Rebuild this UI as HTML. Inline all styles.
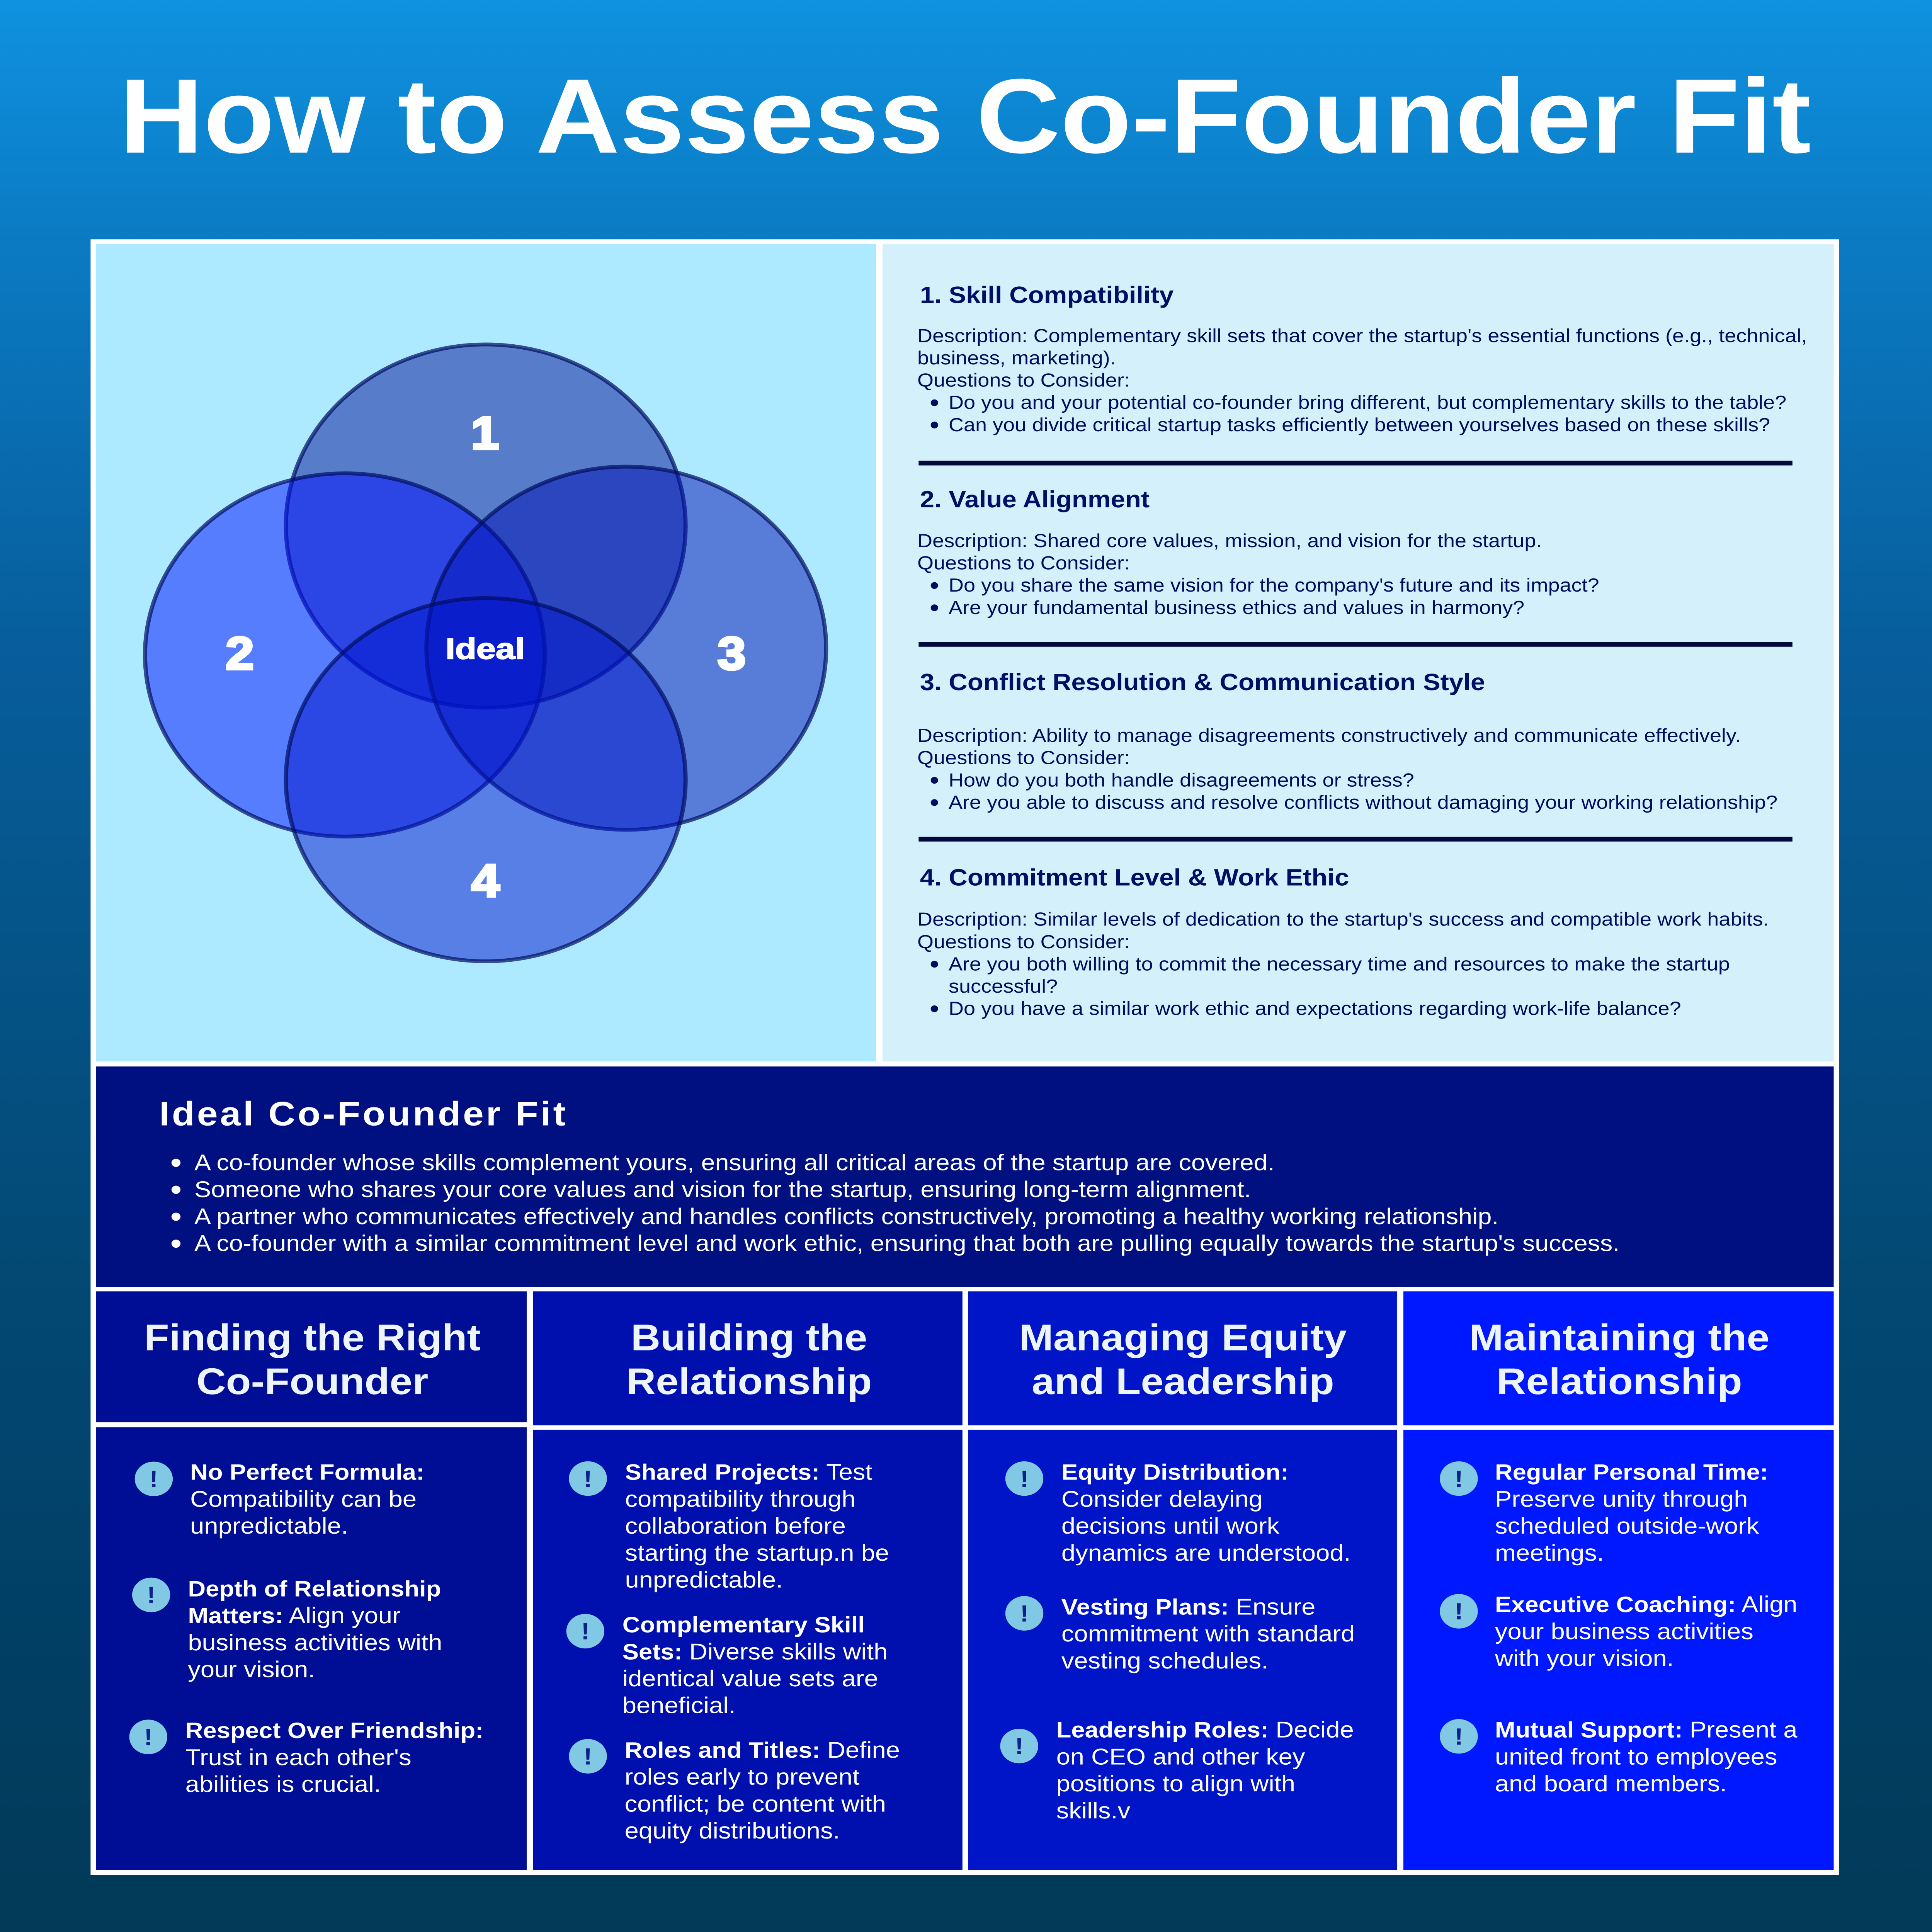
<!DOCTYPE html>
<html><head><meta charset="utf-8"><title>How to Assess Co-Founder Fit</title>
<style>
html,body{margin:0;padding:0;background:#023a58;width:100%;height:100%;overflow:hidden}
svg{display:block;position:absolute;left:0;top:0;width:100vw;height:100vh}
text{font-family:"Liberation Sans",Arial,Helvetica,sans-serif;text-rendering:geometricPrecision}
.h{font-size:80.5px;font-weight:700;fill:#000f66}
.d{font-size:64.8px;fill:#000c5e}
.l{font-size:77.5px;fill:#fff}
.i{font-size:78px;fill:#fff}
.b{font-weight:700;font-size:76px}
.ch{font-size:127px;font-weight:700;fill:#edf5fb;text-anchor:middle}
.v{font-size:158px;font-weight:700;fill:#fff;stroke:#fff;stroke-width:8px;text-anchor:middle}
.x{font-size:80px;font-weight:700;fill:#0d2288;text-anchor:middle}
</style></head><body>
<svg xmlns="http://www.w3.org/2000/svg" viewBox="0 0 5994 6596" preserveAspectRatio="none">
<defs>
<linearGradient id="bg" x1="0" y1="0" x2="0" y2="1">
<stop offset="0" stop-color="#0f92e0"/><stop offset=".12" stop-color="#0b7bc4"/><stop offset=".33" stop-color="#075e9c"/><stop offset=".64" stop-color="#034a76"/><stop offset=".85" stop-color="#013f64"/><stop offset="1" stop-color="#023a58"/>
</linearGradient>
</defs>
<rect width="5994" height="6596" fill="url(#bg)"/>
<text x="370" y="521" font-size="361.5" font-weight="700" fill="#fff">How to Assess Co-Founder Fit</text>

<rect x="281" y="817" width="5425" height="5584" fill="#fff"/>
<rect x="298" y="833" width="2420" height="2791" fill="#aeeaff"/>
<rect x="2738" y="833" width="2951" height="2791" fill="#d3f0fb"/>
<rect x="298" y="3641" width="5391" height="752" fill="#001080"/>
<rect x="298" y="4409" width="1336" height="447" fill="#000e96"/>
<rect x="298" y="4873" width="1336" height="1511" fill="#000e96"/>
<rect x="1654" y="4409" width="1332" height="457" fill="#0010ae"/>
<rect x="1654" y="4881" width="1332" height="1503" fill="#0010ae"/>
<rect x="3003" y="4409" width="1331" height="457" fill="#0014c8"/>
<rect x="3003" y="4881" width="1331" height="1503" fill="#0014c8"/>
<rect x="4354" y="4409" width="1335" height="457" fill="#0018ff"/>
<rect x="4354" y="4881" width="1335" height="1503" fill="#0018ff"/>

<!-- Venn -->
<g stroke="rgb(0,13,95)" stroke-opacity=".7" stroke-width="13" fill-opacity=".5">
<circle cx="1507" cy="1796" r="620" fill="#001096"/>
<circle cx="1070" cy="2236" r="620" fill="#0010ff"/>
<circle cx="1943" cy="2213" r="620" fill="#0010b1"/>
<circle cx="1507" cy="2662" r="620" fill="#0014cb"/>
</g>
<text class="v" x="1505" y="1533">1</text>
<text class="v" x="744" y="2285">2</text>
<text class="v" x="2270" y="2285">3</text>
<text class="v" x="1506" y="3061">4</text>
<text x="1382" y="2249" font-size="100" font-weight="700" fill="#fff" stroke="#fff" stroke-width="3" textLength="246" lengthAdjust="spacingAndGlyphs">Ideal</text>

<!-- Right panel -->
<text class="h" x="2854" y="1034">1. Skill Compatibility</text>
<text class="d" x="2846" y="1168">Description: Complementary skill sets that cover the startup's essential functions (e.g., technical,</text>
<text class="d" x="2846" y="1244">business, marketing).</text>
<text class="d" x="2846" y="1320">Questions to Consider:</text>
<circle cx="2899" cy="1375" r="11.5" fill="#000c5e"/>
<text class="d" x="2943" y="1396">Do you and your potential co-founder bring different, but complementary skills to the table?</text>
<circle cx="2899" cy="1451" r="11.5" fill="#000c5e"/>
<text class="d" x="2943" y="1472">Can you divide critical startup tasks efficiently between yourselves based on these skills?</text>
<rect x="2850" y="1573" width="2711" height="16" fill="#00083c"/>

<text class="h" x="2854" y="1732">2. Value Alignment</text>
<text class="d" x="2846" y="1868">Description: Shared core values, mission, and vision for the startup.</text>
<text class="d" x="2846" y="1944">Questions to Consider:</text>
<circle cx="2899" cy="1999" r="11.5" fill="#000c5e"/>
<text class="d" x="2943" y="2020">Do you share the same vision for the company's future and its impact?</text>
<circle cx="2899" cy="2075" r="11.5" fill="#000c5e"/>
<text class="d" x="2943" y="2096">Are your fundamental business ethics and values in harmony?</text>
<rect x="2850" y="2192" width="2711" height="16" fill="#00083c"/>

<text class="h" x="2854" y="2356">3. Conflict Resolution &amp; Communication Style</text>
<text class="d" x="2846" y="2533">Description: Ability to manage disagreements constructively and communicate effectively.</text>
<text class="d" x="2846" y="2609">Questions to Consider:</text>
<circle cx="2899" cy="2664" r="11.5" fill="#000c5e"/>
<text class="d" x="2943" y="2685">How do you both handle disagreements or stress?</text>
<circle cx="2899" cy="2740" r="11.5" fill="#000c5e"/>
<text class="d" x="2943" y="2761">Are you able to discuss and resolve conflicts without damaging your working relationship?</text>
<rect x="2850" y="2857" width="2711" height="16" fill="#00083c"/>

<text class="h" x="2854" y="3023">4. Commitment Level &amp; Work Ethic</text>
<text class="d" x="2846" y="3160">Description: Similar levels of dedication to the startup's success and compatible work habits.</text>
<text class="d" x="2846" y="3237">Questions to Consider:</text>
<circle cx="2899" cy="3292" r="11.5" fill="#000c5e"/>
<text class="d" x="2943" y="3313">Are you both willing to commit the necessary time and resources to make the startup</text>
<text class="d" x="2943" y="3389">successful?</text>
<circle cx="2899" cy="3444" r="11.5" fill="#000c5e"/>
<text class="d" x="2943" y="3465">Do you have a similar work ethic and expectations regarding work-life balance?</text>

<!-- Ideal panel -->
<text x="494" y="3842" font-size="116" font-weight="700" fill="#fff" letter-spacing="7">Ideal Co-Founder Fit</text>
<circle cx="546" cy="3970" r="14" fill="#fff"/>
<text class="l" x="603" y="3995">A co-founder whose skills complement yours, ensuring all critical areas of the startup are covered.</text>
<circle cx="546" cy="4062" r="14" fill="#fff"/>
<text class="l" x="603" y="4087">Someone who shares your core values and vision for the startup, ensuring long-term alignment.</text>
<circle cx="546" cy="4154" r="14" fill="#fff"/>
<text class="l" x="603" y="4179">A partner who communicates effectively and handles conflicts constructively, promoting a healthy working relationship.</text>
<circle cx="546" cy="4246" r="14" fill="#fff"/>
<text class="l" x="603" y="4271">A co-founder with a similar commitment level and work ethic, ensuring that both are pulling equally towards the startup's success.</text>

<!-- Column heads -->
<text class="ch" x="969" y="4610">Finding the Right</text>
<text class="ch" x="969" y="4760">Co-Founder</text>
<text class="ch" x="2324" y="4610">Building the</text>
<text class="ch" x="2324" y="4760">Relationship</text>
<text class="ch" x="3670" y="4610">Managing Equity</text>
<text class="ch" x="3670" y="4760">and Leadership</text>
<text class="ch" x="5024" y="4610">Maintaining the</text>
<text class="ch" x="5024" y="4760">Relationship</text>

<!-- Icons -->
<g fill="#80c8e4">
<circle cx="477" cy="5049" r="59"/><circle cx="469" cy="5445" r="59"/><circle cx="460" cy="5930" r="59"/>
<circle cx="1824" cy="5048" r="59"/><circle cx="1816" cy="5569" r="59"/><circle cx="1824" cy="5996" r="59"/>
<circle cx="3178" cy="5048" r="59"/><circle cx="3178" cy="5508" r="59"/><circle cx="3162" cy="5961" r="59"/>
<circle cx="4526" cy="5048" r="59"/><circle cx="4526" cy="5501" r="59"/><circle cx="4526" cy="5928" r="59"/>
</g>
<text class="x" x="477" y="5077">!</text><text class="x" x="469" y="5473">!</text><text class="x" x="460" y="5958">!</text>
<text class="x" x="1824" y="5076">!</text><text class="x" x="1816" y="5597">!</text><text class="x" x="1824" y="6024">!</text>
<text class="x" x="3178" y="5076">!</text><text class="x" x="3178" y="5536">!</text><text class="x" x="3162" y="5989">!</text>
<text class="x" x="4526" y="5076">!</text><text class="x" x="4526" y="5529">!</text><text class="x" x="4526" y="5956">!</text>

<!-- Col 1 -->
<text class="i b" x="590" y="5052">No Perfect Formula:</text>
<text class="i" x="590" y="5144">Compatibility can be</text>
<text class="i" x="590" y="5236">unpredictable.</text>
<text class="i b" x="583" y="5450">Depth of Relationship</text>
<text class="i" x="583" y="5542"><tspan class="b">Matters:</tspan> Align your</text>
<text class="i" x="583" y="5634">business activities with</text>
<text class="i" x="583" y="5726">your vision.</text>
<text class="i b" x="575" y="5934">Respect Over Friendship:</text>
<text class="i" x="575" y="6026">Trust in each other's</text>
<text class="i" x="575" y="6118">abilities is crucial.</text>

<!-- Col 2 -->
<text class="i" x="1939" y="5052"><tspan class="b">Shared Projects:</tspan> Test</text>
<text class="i" x="1939" y="5144">compatibility through</text>
<text class="i" x="1939" y="5236">collaboration before</text>
<text class="i" x="1939" y="5328">starting the startup.n be</text>
<text class="i" x="1939" y="5420">unpredictable.</text>
<text class="i b" x="1931" y="5573">Complementary Skill</text>
<text class="i" x="1931" y="5665"><tspan class="b">Sets:</tspan> Diverse skills with</text>
<text class="i" x="1931" y="5757">identical value sets are</text>
<text class="i" x="1931" y="5849">beneficial.</text>
<text class="i" x="1938" y="6001"><tspan class="b">Roles and Titles:</tspan> Define</text>
<text class="i" x="1938" y="6093">roles early to prevent</text>
<text class="i" x="1938" y="6185">conflict; be content with</text>
<text class="i" x="1938" y="6277">equity distributions.</text>

<!-- Col 3 -->
<text class="i b" x="3293" y="5052">Equity Distribution:</text>
<text class="i" x="3293" y="5144">Consider delaying</text>
<text class="i" x="3293" y="5236">decisions until work</text>
<text class="i" x="3293" y="5328">dynamics are understood.</text>
<text class="i" x="3293" y="5512"><tspan class="b">Vesting Plans:</tspan> Ensure</text>
<text class="i" x="3293" y="5604">commitment with standard</text>
<text class="i" x="3293" y="5696">vesting schedules.</text>
<text class="i" x="3277" y="5932"><tspan class="b">Leadership Roles:</tspan> Decide</text>
<text class="i" x="3277" y="6024">on CEO and other key</text>
<text class="i" x="3277" y="6116">positions to align with</text>
<text class="i" x="3277" y="6208">skills.v</text>

<!-- Col 4 -->
<text class="i b" x="4638" y="5052">Regular Personal Time:</text>
<text class="i" x="4638" y="5144">Preserve unity through</text>
<text class="i" x="4638" y="5236">scheduled outside-work</text>
<text class="i" x="4638" y="5328">meetings.</text>
<text class="i" x="4638" y="5504"><tspan class="b">Executive Coaching:</tspan> Align</text>
<text class="i" x="4638" y="5596">your business activities</text>
<text class="i" x="4638" y="5688">with your vision.</text>
<text class="i" x="4638" y="5932"><tspan class="b">Mutual Support:</tspan> Present a</text>
<text class="i" x="4638" y="6024">united front to employees</text>
<text class="i" x="4638" y="6116">and board members.</text>
</svg>
</body></html>
